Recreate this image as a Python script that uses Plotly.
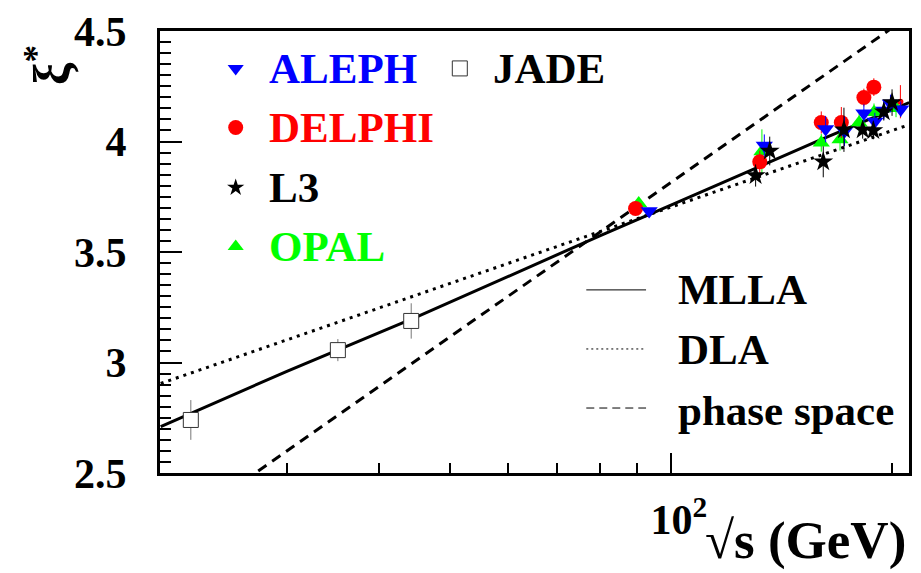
import plotly.graph_objects as go

# ---- measurements: xi* peak position vs centre-of-mass energy ----
aleph_e = [93.4, 134.0, 162.4, 172.3, 183.1, 189.5, 194.9, 199.0, 205.5]
aleph_xi = [3.685, 3.982, 4.056, 4.046, 4.128, 4.090, 4.140, 4.172, 4.146]
aleph_err = [0.010, 0.050, 0.060, 0.067, 0.040, 0.040, 0.040, 0.040, 0.035]

delphi_e = [89.5, 132.1, 160.2, 170.6, 183.1, 188.9]
delphi_xi = [3.697, 3.908, 4.086, 4.086, 4.199, 4.246]
delphi_err = [0.010, 0.050, 0.050, 0.070, 0.040, 0.040]
# DELPHI 206 GeV: only the error bar is shown
delphi206_e = [205.3]
delphi206_xi = [4.180]
delphi206_err = [0.075]

l3_e = [130.4, 136.3, 161.2, 172.0, 182.4, 188.6, 194.9, 200.0]
l3_xi = [3.846, 3.957, 3.908, 4.053, 4.053, 4.050, 4.135, 4.176]
l3_err = [0.050, 0.065, 0.070, 0.100, 0.040, 0.040, 0.040, 0.060]

opal_e = [90.4, 133.0, 160.2, 169.9, 180.4, 189.0, 202.5]
opal_xi = [3.720, 3.955, 3.994, 4.009, 4.085, 4.132, 4.150]
opal_err = [0.010, 0.100, 0.040, 0.050, 0.040, 0.040, 0.040]

jade_e = [22.2, 35.2, 44.3]
jade_xi = [2.740, 3.056, 3.188]
jade_err = [0.090, 0.050, 0.080]

# ---- QCD expectations ----
mlla_e = [20.2, 30, 45, 60, 80, 100, 130, 160, 211]
mlla_xi = [2.710, 2.960, 3.205, 3.390, 3.573, 3.712, 3.878, 4.008, 4.176]
dla_e = [20.2, 100, 211]
dla_xi = [2.905, 3.704, 4.076]
ps_e = [20.2, 211]
ps_xi = [2.201, 4.568]

# ---- axes ----
x_range_log = [1.3044, 2.3241]
y_range = [2.5, 4.5]
y_ticks = [2.5, 3, 3.5, 4, 4.5]
y_ticktext = ["2.5", "3", "3.5", "4", "4.5"]
x_ticks = [100]
x_ticktext = ["10<sup>2</sup>"]
x_minor = [30, 40, 50, 60, 70, 80, 90, 200]

SERIF = "Liberation Serif"
BLUE, RED, GREEN, BLACK = "#0000ff", "#ff0000", "#00ff00", "#000000"

fig = go.Figure()

# curves
fig.add_trace(go.Scatter(x=mlla_e, y=mlla_xi, mode="lines",
                         line=dict(color=BLACK, width=3), hoverinfo="skip"))
fig.add_trace(go.Scatter(x=dla_e, y=dla_xi, mode="lines",
                         line=dict(color=BLACK, width=3, dash="3px,5px"), hoverinfo="skip"))
fig.add_trace(go.Scatter(x=ps_e, y=ps_xi, mode="lines",
                         line=dict(color=BLACK, width=3, dash="10px,7px"), hoverinfo="skip"))


def points(e, xi, err, color, symbol, size, errcolor=None, fill=None, line=None):
    return go.Scatter(
        x=e, y=xi, mode="markers",
        marker=dict(color=fill or color, symbol=symbol, size=size,
                    line=line or dict(width=0)),
        error_y=dict(type="data", array=err, color=errcolor or color,
                     thickness=1, width=0),
    )


fig.add_trace(points(jade_e, jade_xi, jade_err, BLACK, "square", 15,
                     errcolor="#777777", fill="white",
                     line=dict(color="#333333", width=1)))
fig.add_trace(points(opal_e, opal_xi, opal_err, GREEN, "triangle-up", 15))
fig.add_trace(points(delphi206_e, delphi206_xi, delphi206_err, RED, "circle", 0))
fig.add_trace(points(delphi_e, delphi_xi, delphi_err, RED, "circle", 15))
fig.add_trace(points(aleph_e, aleph_xi, aleph_err, BLUE, "triangle-down", 15))
fig.add_trace(points(l3_e, l3_xi, l3_err, BLACK, "star", 15))

# ---- hand-placed legend on an overlay frame measured in pixels ----
L, R, T, B = 160, 912, 24, 473
leg_marks = [
    (236, 62, BLUE, "triangle-down", 14, None),
    (236, 122, RED, "circle", 15, None),
    (236, 183, BLACK, "star", 13, None),
    (236, 243, GREEN, "triangle-up", 14, None),
    (461, 62, "white", "square", 15, dict(color="#333333", width=1)),
]
for px, py, col, sym, sz, ln in leg_marks:
    fig.add_trace(go.Scatter(x=[px], y=[py], xaxis="x2", yaxis="y2", mode="markers",
                             marker=dict(color=col, symbol=sym, size=sz,
                                         line=ln or dict(width=0)),
                             hoverinfo="skip"))
for py, dash in [(287, "solid"), (347, "2px,3px"), (407, "8px,5px")]:
    fig.add_trace(go.Scatter(x=[588, 648], y=[py, py], xaxis="x2", yaxis="y2", mode="lines",
                             line=dict(color=BLACK, width=1, dash=dash), hoverinfo="skip"))

leg_text = [
    (267, 62, "ALEPH", BLUE),
    (267, 122, "DELPHI", RED),
    (267, 183, "L3", BLACK),
    (267, 243, "OPAL", GREEN),
    (492, 62, "JADE", BLACK),
    (678, 287, "MLLA", BLACK),
    (678, 348, "DLA", BLACK),
    (678, 409, "phase space", BLACK),
]
annotations = []
for px, py, txt, col in leg_text:
    annotations.append(dict(x=px, y=py, xref="x2", yref="y2", text=txt, showarrow=False,
                            xanchor="left", yanchor="middle",
                            font=dict(family=SERIF, size=43, color=col, weight="bold")))


def paper(px, py):
    return (px - L) / (R - L), (B - py) / (B - T)


xx, yy = paper(911, 542)
annotations.append(dict(x=xx, y=yy, xref="paper", yref="paper", text="√s (GeV)",
                        showarrow=False, xanchor="right", yanchor="middle",
                        font=dict(family=SERIF, size=53, color=BLACK, weight="bold")))
xx, yy = paper(48, 58)
annotations.append(dict(x=xx, y=yy, xref="paper", yref="paper", text="ξ<sup>*</sup>",
                        showarrow=False, xanchor="center", yanchor="middle", textangle=-90,
                        font=dict(family=SERIF, size=50, color=BLACK, weight="bold")))

tick_font = dict(family=SERIF, size=42, color=BLACK, weight="bold")
fig.update_layout(
    width=921, height=573,
    margin=dict(l=L, r=921 - R, t=T, b=573 - B),
    paper_bgcolor="white", plot_bgcolor="white",
    font=dict(family=SERIF),
    showlegend=False,
    annotations=annotations,
    xaxis=dict(type="log", range=x_range_log, showgrid=False, zeroline=False,
               showline=True, linecolor=BLACK, linewidth=3, mirror=True,
               ticks="inside", tickvals=x_ticks, ticktext=x_ticktext,
               ticklen=20, tickwidth=2, tickcolor=BLACK, tickfont=tick_font,
               ticklabelstandoff=8, ticklabelshift=8,
               minor=dict(tickvals=x_minor, ticks="inside", ticklen=10,
                          tickwidth=2, tickcolor=BLACK)),
    yaxis=dict(range=y_range, showgrid=False, zeroline=False,
               showline=True, linecolor=BLACK, linewidth=3, mirror=True,
               ticks="inside", tickvals=y_ticks, ticktext=y_ticktext,
               ticklen=22, tickwidth=2, tickcolor=BLACK, tickfont=tick_font,
               ticklabelstandoff=22,
               minor=dict(dtick=0.05, tick0=2.5, ticks="inside", ticklen=11,
                          tickwidth=2, tickcolor=BLACK)),
    xaxis2=dict(overlaying="x", anchor="y2", range=[L, R], visible=False),
    yaxis2=dict(overlaying="y", anchor="x2", range=[B, T], visible=False),
)

fig.write_html("out.html")
